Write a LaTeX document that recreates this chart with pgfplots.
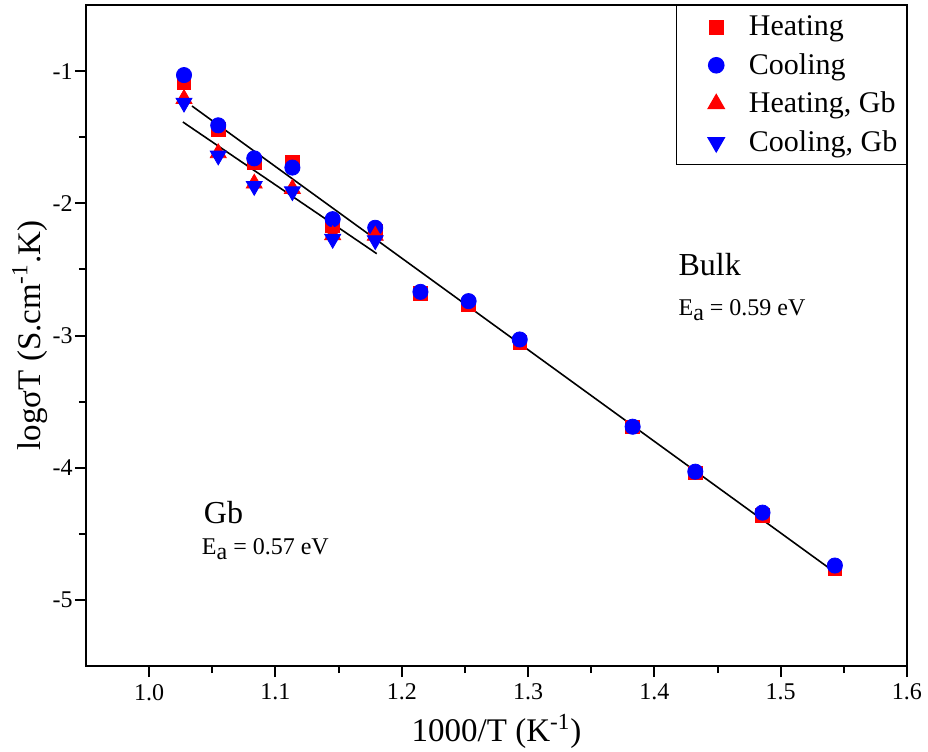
\documentclass[border=0pt]{standalone}
\usepackage{fontspec}
\setmainfont{Liberation Serif}
\usepackage{pgfplots}
\pgfplotsset{compat=1.18}

% bulk: heating / cooling
\pgfplotstableread{
x y
1.0276 -1.09
1.0547 -1.44
1.0832 -1.69
1.1134 -1.69
1.1453 -2.17
1.1790 -2.21
1.2148 -2.68
1.2529 -2.77
1.2934 -3.05
1.3828 -3.69
1.4324 -4.04
1.4856 -4.36
1.5429 -4.76
}\bulkheat
\pgfplotstableread{
x y
1.0276 -1.03
1.0547 -1.41
1.0832 -1.66
1.1134 -1.73
1.1453 -2.12
1.1790 -2.185
1.2148 -2.67
1.2529 -2.74
1.2934 -3.03
1.3828 -3.69
1.4324 -4.03
1.4856 -4.34
1.5429 -4.74
}\bulkcool
% grain boundary
\pgfplotstableread{
x y
1.0276 -1.21
1.0547 -1.62
1.0832 -1.85
1.1134 -1.89
1.1453 -2.24
1.1790 -2.245
}\gbheat
\pgfplotstableread{
x y
1.0276 -1.24
1.0547 -1.64
1.0832 -1.87
1.1134 -1.91
1.1453 -2.27
1.1790 -2.28
}\gbcool

\begin{document}
\begin{tikzpicture}
\begin{axis}[
    at={(0,0)}, anchor=south west,
    scale only axis, width=410.5pt, height=330.5pt,
    xmin=0.95, xmax=1.6, ymin=-5.5, ymax=-0.5,
    xtick={1.0,1.1,1.2,1.3,1.4,1.5,1.6},
    ytick={-5,-4,-3,-2,-1},
    minor x tick num=1, minor y tick num=1,
    xtick pos=left, ytick pos=left, tick align=outside,
    major tick length=5.5pt, minor tick length=3.5pt,
    every tick/.style={black, line width=1pt},
    axis line style={line width=1.2pt},
    /pgf/number format/assume math mode=true,
    xticklabel style={/pgf/number format/.cd, fixed, fixed zerofill, precision=1},
    yticklabel style={inner xsep=1pt},
    tick label style={font=\fontsize{12}{14}\selectfont},
    label style={font=\fontsize{16.5}{19}\selectfont},
    xlabel={1000/T (K\textsuperscript{-1})},
    ylabel={logσT (S.cm\textsuperscript{-1}.K)},
    ylabel style={at={(axis description cs:-0.056,0.5)}, anchor=base},
    legend style={at={(1,1)}, anchor=north east, draw=black, line width=0.7pt,
        font=\fontsize{15}{17}\selectfont, row sep=3.4pt,
        inner xsep=2.5pt, inner ysep=3pt},
    legend cell align=left,
    legend image code/.code={\path (0pt,0pt) (31pt,0pt);
        \draw[#1] plot coordinates {(17pt,0pt)};},
]
\addplot[only marks, mark=square*, mark size=3.4pt, color=red] table {\bulkheat};
\addplot[only marks, mark=*, mark size=3.8pt, color=blue] table {\bulkcool};
\addplot[only marks, mark=triangle*, mark size=4.6pt, color=red] table {\gbheat};
\addplot[only marks, mark=triangle*, mark size=4.6pt, color=blue, mark options={rotate=180}] table {\gbcool};
\legend{Heating, Cooling, {Heating, Gb}, {Cooling, Gb}}

% linear fits
\addplot[black, line width=0.8pt, forget plot] coordinates {(1.0339,-1.264) (1.5426,-4.789)};
\addplot[black, line width=0.8pt, forget plot] coordinates {(1.0267,-1.385) (1.1802,-2.381)};

\node[anchor=base west, font=\fontsize{16}{19}\selectfont] at (axis cs:1.4136,-2.547) {Bulk};
\node[anchor=base west, font=\fontsize{12}{14}\selectfont] at (axis cs:1.4136,-2.849) {E\raisebox{-0.45ex}{a} = 0.59 eV};
\node[anchor=base west, font=\fontsize{16}{19}\selectfont] at (axis cs:1.0378,-4.419) {Gb};
\node[anchor=base west, font=\fontsize{12}{14}\selectfont] at (axis cs:1.0362,-4.660) {E\raisebox{-0.45ex}{a} = 0.57 eV};
\end{axis}
\pgfresetboundingbox
\path (-43pt,-42.5pt) rectangle (421pt,333pt);
\end{tikzpicture}
\end{document}
